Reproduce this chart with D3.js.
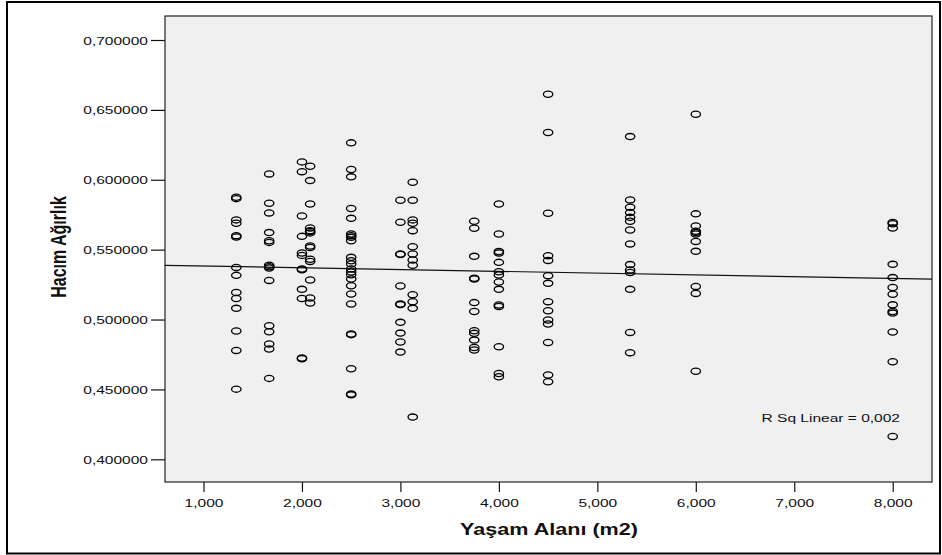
<!DOCTYPE html>
<html>
<head>
<meta charset="utf-8">
<script src="https://cdn.jsdelivr.net/npm/d3@7"></script>
<style>
  html, body { margin: 0; padding: 0; background: #ffffff; }
  svg { display: block; }
  text { font-family: "Liberation Sans", Arial, sans-serif; fill: #111; }
</style>
</head>
<body>
<svg id="chart" width="942" height="555"></svg>
<script>
// Living area groups (x) and the volume-weight observations in each group (y)
const livingAreas = [1.333, 1.667, 2.000, 2.083, 2.500, 3.000, 3.125, 3.750, 4.000, 4.500, 5.333, 6.000, 8.000];

const w1333 = [0.5875, 0.5865, 0.5713, 0.5689, 0.5600, 0.5590, 0.5373, 0.5316, 0.5194, 0.5151, 0.5080, 0.4918, 0.4779, 0.4502];
const w1667 = [0.6042, 0.5832, 0.5763, 0.5622, 0.5564, 0.5552, 0.5388, 0.5378, 0.5369, 0.5280, 0.4956, 0.4913, 0.4825, 0.4789, 0.4579];
const w2000 = [0.6128, 0.6058, 0.5741, 0.5595, 0.5476, 0.5459, 0.5362, 0.5356, 0.5216, 0.5151, 0.4725, 0.4720];
const w2083 = [0.6097, 0.5994, 0.5827, 0.5655, 0.5636, 0.5630, 0.5620, 0.5526, 0.5516, 0.5431, 0.5416, 0.5283, 0.5154, 0.5118];
const w2500 = [0.6264, 0.6073, 0.6021, 0.5794, 0.5724, 0.5612, 0.5600, 0.5588, 0.5564, 0.5445, 0.5421, 0.5398, 0.5362, 0.5340, 0.5320, 0.5290, 0.5242, 0.5183, 0.5111, 0.4896, 0.4892, 0.4648, 0.4467, 0.4461];
const w3000 = [0.5853, 0.5696, 0.5469, 0.5465, 0.5240, 0.5111, 0.5107, 0.4980, 0.4903, 0.4839, 0.4767];
const w3125 = [0.5982, 0.5853, 0.5713, 0.5689, 0.5636, 0.5521, 0.5469, 0.5426, 0.5388, 0.5178, 0.5128, 0.5080, 0.4302];
const w3750 = [0.5703, 0.5653, 0.5452, 0.5295, 0.5290, 0.5121, 0.5058, 0.4920, 0.4901, 0.4853, 0.4800, 0.4782];
const w4000 = [0.5827, 0.5612, 0.5486, 0.5476, 0.5409, 0.5342, 0.5319, 0.5269, 0.5216, 0.5104, 0.5094, 0.4805, 0.4614, 0.4591];
const w4500 = [0.6612, 0.6338, 0.5760, 0.5457, 0.5423, 0.5314, 0.5259, 0.5128, 0.5063, 0.4997, 0.4968, 0.4836, 0.4603, 0.4555];
const w5333 = [0.6309, 0.5856, 0.5803, 0.5765, 0.5731, 0.5703, 0.5641, 0.5541, 0.5393, 0.5355, 0.5337, 0.5216, 0.4908, 0.4763];
const w6000 = [0.6469, 0.5756, 0.5670, 0.5631, 0.5622, 0.5612, 0.5559, 0.5488, 0.5237, 0.5187, 0.4630];
const w8000 = [0.5695, 0.5685, 0.5655, 0.5395, 0.5300, 0.5229, 0.5181, 0.5105, 0.5058, 0.5046, 0.4911, 0.4698, 0.4163];

const volumeWeights = [w1333, w1667, w2000, w2083, w2500, w3000, w3125, w3750, w4000, w4500, w5333, w6000, w8000];

const xTicks = [1, 2, 3, 4, 5, 6, 7, 8];
const yTicks = [0.40, 0.45, 0.50, 0.55, 0.60, 0.65, 0.70];

const xTitle = "Yaşam Alanı (m2)";
const yTitle = "Hacım Ağırlık";
const fitLabel = "R Sq Linear = 0,002";

// Flat point list built from the groups above
const points = [];
livingAreas.forEach((a, i) => volumeWeights[i].forEach(v => points.push({ x: a, y: v })));

// Comma-decimal number formatting
const loc = d3.formatLocale({ decimal: ",", thousands: ".", grouping: [3], currency: ["", ""] });
const fmtX = loc.format(".3f");
const fmtY = loc.format(".6f");

const svg = d3.select("#chart");
const plot = { left: 165, top: 16, right: 932, bottom: 482 };
const stretch = 1.35; // horizontal widening of all lettering

const x = d3.scaleLinear().domain([0.609, 8.399]).range([plot.left, plot.right]);
const y = d3.scaleLinear().domain([0.38376, 0.71717]).range([plot.bottom, plot.top]);

// Outer frame
svg.append("rect")
  .attr("x", 7).attr("y", 2).attr("width", 933).attr("height", 551.5)
  .attr("fill", "none").attr("stroke", "#000").attr("stroke-width", 2);

// Plot background
svg.append("rect")
  .attr("x", plot.left).attr("y", plot.top)
  .attr("width", plot.right - plot.left).attr("height", plot.bottom - plot.top)
  .attr("fill", "#f0f0f0");

// Y axis
const gy = svg.append("g").attr("transform", `translate(${plot.left},0)`)
  .call(d3.axisLeft(y).tickValues(yTicks).tickFormat(fmtY).tickSize(14).tickSizeOuter(0));
gy.select(".domain").remove();
gy.selectAll(".tick line").attr("stroke", "#111").attr("stroke-width", 1.2);
gy.selectAll(".tick text")
  .attr("x", 0).attr("dy", "0.35em")
  .attr("transform", `translate(-17,0) scale(${stretch},1)`)
  .attr("text-anchor", "end")
  .style("font-family", "'Liberation Sans', Arial, sans-serif")
  .style("font-size", "11.5px").attr("fill", "#111");

// X axis
const gx = svg.append("g").attr("transform", `translate(0,${plot.bottom})`)
  .call(d3.axisBottom(x).tickValues(xTicks).tickFormat(fmtX).tickSize(10).tickSizeOuter(0));
gx.select(".domain").remove();
gx.selectAll(".tick line").attr("stroke", "#111").attr("stroke-width", 1.2);
gx.selectAll(".tick text")
  .attr("y", 0).attr("dy", 0)
  .attr("transform", `translate(0,25) scale(${stretch},1)`)
  .attr("text-anchor", "middle")
  .style("font-family", "'Liberation Sans', Arial, sans-serif")
  .style("font-size", "11.5px").attr("fill", "#111");

// Plot border
svg.append("rect")
  .attr("x", plot.left).attr("y", plot.top)
  .attr("width", plot.right - plot.left).attr("height", plot.bottom - plot.top)
  .attr("fill", "none").attr("stroke", "#222").attr("stroke-width", 1.2);

// Least-squares fit line across the full x range
const n = points.length;
const mx = d3.mean(points, d => d.x);
const my = d3.mean(points, d => d.y);
const sxy = d3.sum(points, d => (d.x - mx) * (d.y - my));
const sxx = d3.sum(points, d => (d.x - mx) ** 2);
const slope = sxy / sxx;
const intercept = my - slope * mx;
const [x0, x1] = x.domain();
svg.append("line")
  .attr("x1", x(x0)).attr("y1", y(intercept + slope * x0))
  .attr("x2", x(x1)).attr("y2", y(intercept + slope * x1))
  .attr("stroke", "#111").attr("stroke-width", 1.2);

// Observations as open ellipses
svg.append("g").selectAll("ellipse").data(points).join("ellipse")
  .attr("cx", d => x(d.x)).attr("cy", d => y(d.y))
  .attr("rx", 4.7).attr("ry", 3.1)
  .attr("fill", "none").attr("stroke", "#000").attr("stroke-width", 1.3);

// Fit statistic
svg.append("text")
  .attr("transform", `translate(900,421.7) scale(${stretch},1)`)
  .attr("text-anchor", "end").style("font-size", "11.5px")
  .text(fitLabel);

// Axis titles
svg.append("text")
  .attr("transform", `translate(549,535) scale(${stretch},1)`)
  .attr("text-anchor", "middle").style("font-size", "16px").style("font-weight", "bold")
  .text(xTitle);

svg.append("text")
  .attr("transform", `translate(66,247) scale(${stretch},1) rotate(-90)`)
  .attr("text-anchor", "middle").style("font-size", "16px").style("font-weight", "bold")
  .text(yTitle);
</script>
</body>
</html>
